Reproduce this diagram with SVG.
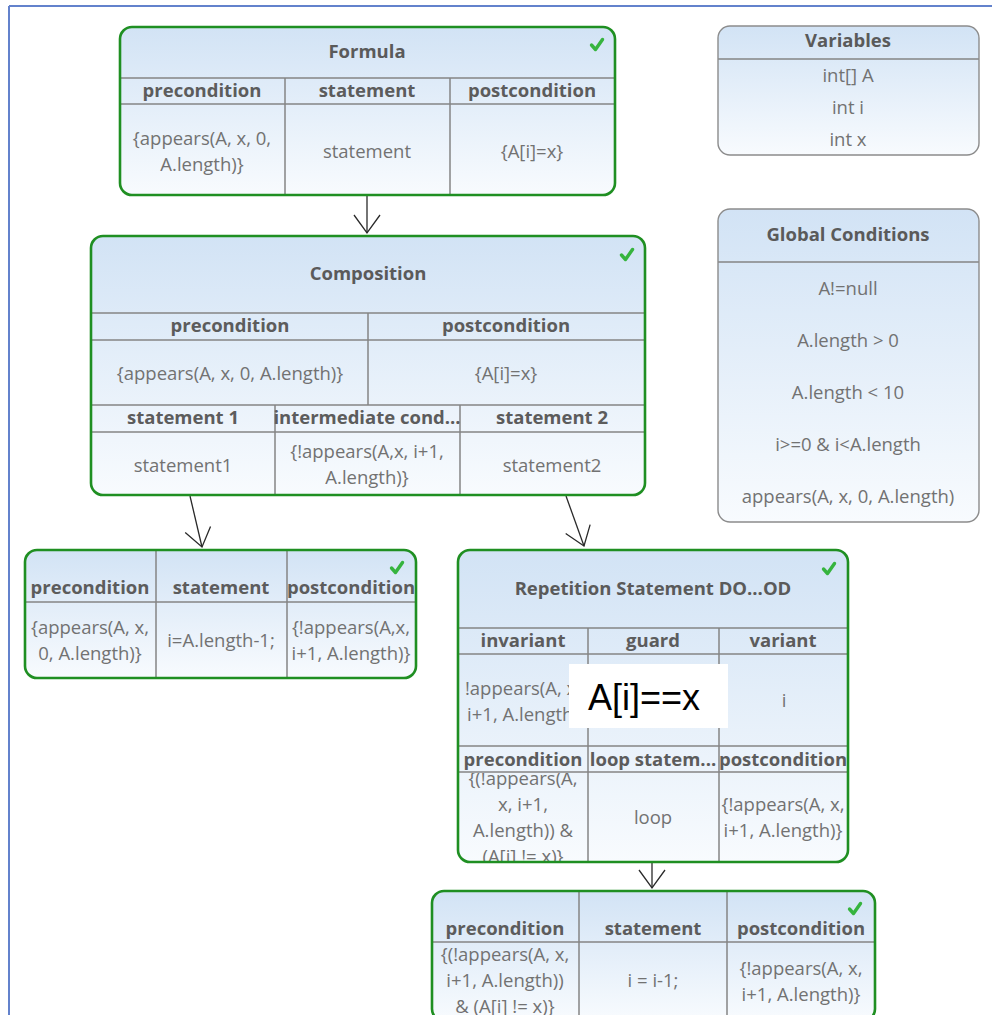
<svg xmlns="http://www.w3.org/2000/svg" width="992" height="1015" viewBox="0 0 992 1015">
  <style>
    text { font-family: "Open Sans", "Noto Sans", "Liberation Sans", sans-serif; text-anchor: middle; }
    .title { font-size: 18.5px; font-weight: bold; fill: #5a5a5a; }
    .hdr { font-size: 18.5px; font-weight: bold; fill: #5c5c5c; }
    .txt { font-size: 18.5px; fill: #727272; }
    .box { fill: url(#cellFill); }
    .frame { fill: none; stroke: #1f8f22; stroke-width: 2.6; }
    .gframe { fill: none; stroke: #8c8c8c; stroke-width: 1.4; }
    .grid { stroke: #848484; stroke-width: 1.5; }
    .check { fill: none; stroke: #36b43e; stroke-width: 3.4; stroke-linecap: round; stroke-linejoin: round; }
    .conn { fill: none; stroke: #2a2a2a; stroke-width: 1.3; marker-end: url(#openArrow); }
  </style>
  <defs>
    <linearGradient id="cellFill" x1="0" y1="0" x2="0" y2="1">
      <stop offset="0" stop-color="#d2e3f5"/>
      <stop offset="1" stop-color="#f8fbfe"/>
    </linearGradient>
    <marker id="openArrow" markerUnits="userSpaceOnUse" markerWidth="30" markerHeight="30" viewBox="-20 -15 22 30" refX="0" refY="0" orient="auto">
      <path d="M-18,-13 L0,0 L-18,13" fill="none" stroke="#2a2a2a" stroke-width="1.3"/>
    </marker>
    <clipPath id="repPreClip">
      <rect x="458" y="773" width="130" height="88"/>
    </clipPath>
    <path id="tick" d="M-5.5,0 L-1.5,4.5 L5.5,-5.5"/>
  </defs>

  <rect x="0" y="0" width="992" height="1015" fill="#ffffff"/>

  <!-- page frame -->
  <g id="page-frame" stroke="#6382cc" stroke-width="2" fill="none">
    <line x1="9" y1="6" x2="992" y2="6"/>
    <line x1="9" y1="6" x2="9" y2="1015"/>
  </g>

  <!-- connectors -->
  <g id="connectors">
    <line class="conn" x1="367" y1="195" x2="367" y2="233"/>
    <line class="conn" x1="190" y1="496" x2="202" y2="547"/>
    <line class="conn" x1="566" y1="496" x2="584" y2="546"/>
    <line class="conn" x1="652" y1="862" x2="652" y2="888"/>
  </g>

  <!-- Formula -->
  <g id="formula">
    <rect class="box" x="120" y="27" width="495" height="168" rx="12"/>
    <line class="grid" x1="120" y1="78" x2="615" y2="78"/>
    <line class="grid" x1="120" y1="104" x2="615" y2="104"/>
    <line class="grid" x1="285" y1="78" x2="285" y2="195"/>
    <line class="grid" x1="450" y1="78" x2="450" y2="195"/>
    <text class="title" x="367" y="58">Formula</text>
    <text class="hdr" x="202" y="97">precondition</text>
    <text class="hdr" x="367" y="97">statement</text>
    <text class="hdr" x="532" y="97">postcondition</text>
    <text class="txt" x="202" y="145">{appears(A, x, 0,</text>
    <text class="txt" x="202" y="171">A.length)}</text>
    <text class="txt" x="367" y="158">statement</text>
    <text class="txt" x="532" y="158">{A[i]=x}</text>
    <rect class="frame" x="120" y="27" width="495" height="168" rx="12"/>
    <use href="#tick" class="check" x="597" y="45"/>
  </g>

  <!-- Composition -->
  <g id="composition">
    <rect class="box" x="91" y="236" width="554" height="259" rx="12"/>
    <line class="grid" x1="91" y1="313" x2="645" y2="313"/>
    <line class="grid" x1="91" y1="340" x2="645" y2="340"/>
    <line class="grid" x1="91" y1="405" x2="645" y2="405"/>
    <line class="grid" x1="91" y1="432" x2="645" y2="432"/>
    <line class="grid" x1="368" y1="313" x2="368" y2="405"/>
    <line class="grid" x1="275" y1="405" x2="275" y2="495"/>
    <line class="grid" x1="460" y1="405" x2="460" y2="495"/>
    <text class="title" x="368" y="280">Composition</text>
    <text class="hdr" x="230" y="332">precondition</text>
    <text class="hdr" x="506" y="332">postcondition</text>
    <text class="txt" x="230" y="380">{appears(A, x, 0, A.length)}</text>
    <text class="txt" x="506" y="380">{A[i]=x}</text>
    <text class="hdr" x="183" y="424">statement 1</text>
    <text class="hdr" x="367" y="424">intermediate cond...</text>
    <text class="hdr" x="552" y="424">statement 2</text>
    <text class="txt" x="183" y="472">statement1</text>
    <text class="txt" x="367" y="458">{!appears(A,x, i+1,</text>
    <text class="txt" x="367" y="484">A.length)}</text>
    <text class="txt" x="552" y="472">statement2</text>
    <rect class="frame" x="91" y="236" width="554" height="259" rx="12"/>
    <use href="#tick" class="check" x="627" y="255"/>
  </g>

  <!-- Variables -->
  <g id="variables">
    <rect class="box" x="718" y="26" width="261" height="129" rx="12"/>
    <line class="grid" x1="718" y1="59" x2="979" y2="59"/>
    <text class="title" x="848" y="47">Variables</text>
    <text class="txt" x="848" y="82">int[] A</text>
    <text class="txt" x="848" y="114">int i</text>
    <text class="txt" x="848" y="146">int x</text>
    <rect class="gframe" x="718" y="26" width="261" height="129" rx="12"/>
  </g>

  <!-- Global Conditions -->
  <g id="global-conditions">
    <rect class="box" x="718" y="209" width="261" height="313" rx="12"/>
    <line class="grid" x1="718" y1="262" x2="979" y2="262"/>
    <text class="title" x="848" y="241">Global Conditions</text>
    <text class="txt" x="848" y="295">A!=null</text>
    <text class="txt" x="848" y="347">A.length &gt; 0</text>
    <text class="txt" x="848" y="399">A.length &lt; 10</text>
    <text class="txt" x="848" y="451">i&gt;=0 &amp; i&lt;A.length</text>
    <text class="txt" x="848" y="503">appears(A, x, 0, A.length)</text>
    <rect class="gframe" x="718" y="209" width="261" height="313" rx="12"/>
  </g>

  <!-- Statement 1 -->
  <g id="statement1">
    <rect class="box" x="25" y="550" width="391" height="128" rx="12"/>
    <line class="grid" x1="25" y1="602" x2="416" y2="602"/>
    <line class="grid" x1="156" y1="550" x2="156" y2="678"/>
    <line class="grid" x1="287" y1="550" x2="287" y2="678"/>
    <text class="hdr" x="90" y="594">precondition</text>
    <text class="hdr" x="221" y="594">statement</text>
    <text class="hdr" x="351" y="594">postcondition</text>
    <text class="txt" x="90" y="634">{appears(A, x,</text>
    <text class="txt" x="90" y="660">0, A.length)}</text>
    <text class="txt" x="221" y="647">i=A.length-1;</text>
    <text class="txt" x="351" y="634">{!appears(A,x,</text>
    <text class="txt" x="351" y="660">i+1, A.length)}</text>
    <rect class="frame" x="25" y="550" width="391" height="128" rx="12"/>
    <use href="#tick" class="check" x="397" y="568"/>
  </g>

  <!-- Repetition -->
  <g id="repetition">
    <rect class="box" x="458" y="550" width="390" height="312" rx="12"/>
    <line class="grid" x1="458" y1="628" x2="848" y2="628"/>
    <line class="grid" x1="458" y1="654" x2="848" y2="654"/>
    <line class="grid" x1="458" y1="746" x2="848" y2="746"/>
    <line class="grid" x1="458" y1="772" x2="848" y2="772"/>
    <line class="grid" x1="588" y1="628" x2="588" y2="862"/>
    <line class="grid" x1="719" y1="628" x2="719" y2="862"/>
    <text class="title" x="653" y="595">Repetition Statement DO...OD</text>
    <text class="hdr" x="523" y="647">invariant</text>
    <text class="hdr" x="653" y="647">guard</text>
    <text class="hdr" x="783" y="647">variant</text>
    <text class="txt" x="523" y="695">!appears(A, x,</text>
    <text class="txt" x="523" y="721">i+1, A.length)</text>
    <text class="txt" x="784" y="707">i</text>
    <text class="hdr" x="523" y="766">precondition</text>
    <text class="hdr" x="653" y="766">loop statem...</text>
    <text class="hdr" x="783" y="766">postcondition</text>
    <g clip-path="url(#repPreClip)">
      <text class="txt" x="523" y="785">{(!appears(A,</text>
      <text class="txt" x="523" y="811">x, i+1,</text>
      <text class="txt" x="523" y="837">A.length)) &amp;</text>
      <text class="txt" x="523" y="863">(A[i] != x)}</text>
    </g>
    <text class="txt" x="653" y="824">loop</text>
    <text class="txt" x="783" y="811">{!appears(A, x,</text>
    <text class="txt" x="783" y="837">i+1, A.length)}</text>
    <rect class="frame" x="458" y="550" width="390" height="312" rx="12"/>
    <use href="#tick" class="check" x="829" y="569"/>
  </g>

  <!-- guard label -->
  <g id="guard-label">
    <rect x="569" y="664" width="159" height="64" fill="#ffffff"/>
    <text x="588" y="710" style="font-family: 'Liberation Sans', Arial, sans-serif; font-size: 36px; fill: #000000; text-anchor: start;">A[i]==x</text>
  </g>

  <!-- Loop body -->
  <g id="loop-body">
    <rect class="box" x="432" y="891" width="443" height="130" rx="12"/>
    <line class="grid" x1="432" y1="942" x2="875" y2="942"/>
    <line class="grid" x1="579" y1="891" x2="579" y2="1021"/>
    <line class="grid" x1="727" y1="891" x2="727" y2="1021"/>
    <text class="hdr" x="505" y="935">precondition</text>
    <text class="hdr" x="653" y="935">statement</text>
    <text class="hdr" x="801" y="935">postcondition</text>
    <text class="txt" x="505" y="961">{(!appears(A, x,</text>
    <text class="txt" x="505" y="987">i+1, A.length))</text>
    <text class="txt" x="505" y="1013">&amp; (A[i] != x)}</text>
    <text class="txt" x="653" y="987">i = i-1;</text>
    <text class="txt" x="801" y="975">{!appears(A, x,</text>
    <text class="txt" x="801" y="1001">i+1, A.length)}</text>
    <rect class="frame" x="432" y="891" width="443" height="130" rx="12"/>
    <use href="#tick" class="check" x="855" y="909"/>
  </g>
</svg>
